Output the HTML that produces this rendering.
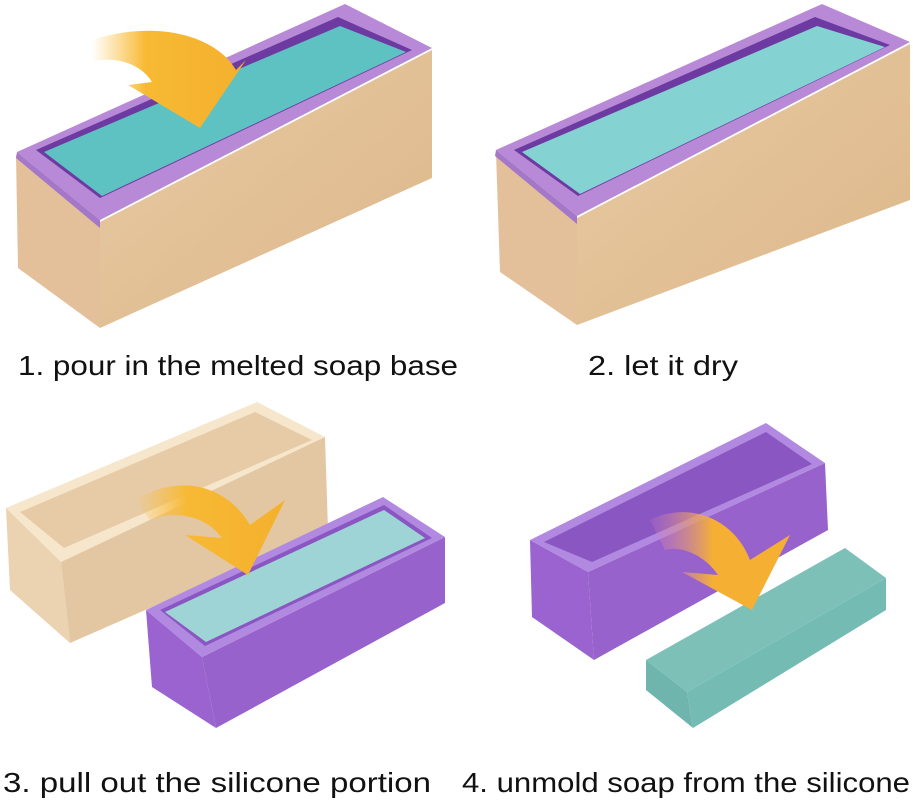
<!DOCTYPE html>
<html><head><meta charset="utf-8"><style>
html,body{margin:0;padding:0;background:#fff;}
svg{display:block;}
text{font-family:"Liberation Sans","DejaVu Sans",sans-serif;font-size:28px;fill:#111;}
</style></head><body>
<svg width="913" height="803" viewBox="0 0 913 803" xmlns="http://www.w3.org/2000/svg">
<defs>
<linearGradient id="wood" x1="0" y1="0" x2="1" y2="1">
<stop offset="0" stop-color="#e9cba3"/><stop offset="1" stop-color="#dcb68a"/></linearGradient>
<linearGradient id="arr" x1="0" y1="0" x2="1" y2="0">
<stop offset="0" stop-color="#fbbd3a" stop-opacity="0"/><stop offset="0.35" stop-color="#f7b934"/><stop offset="1" stop-color="#f4b02c"/></linearGradient>
<linearGradient id="arr2" x1="0" y1="0" x2="1" y2="0">
<stop offset="0" stop-color="#c77acb" stop-opacity="0.2"/><stop offset="0.45" stop-color="#f5b034"/><stop offset="1" stop-color="#f5b034"/></linearGradient>
</defs>

<!-- Panel 1 -->
<polygon points="16,155 100,222 100,328 18,268" fill="#e3c09a"/>
<polygon points="100,222 432,50 432,178 100,328" fill="url(#wood)"/>
<polygon points="17,152 100,220 432,48 345,4" fill="#b889d6"/>
<polygon points="17,152 100,220 100,228 16,158" fill="#a477c8"/>
<polygon points="36,150 100,198 412,50 338,17" fill="#6c3aa0"/>
<polygon points="44,152 102,196 406,52 340,26" fill="#5fc2c2"/>
<path d="M92,40 C160,18 218,38 236,70 L246,60 L200,128 L128,85 L152,82 C140,62 112,56 92,62 Z" fill="url(#arr)"/>

<!-- Panel 2 -->
<polygon points="496,152 577,218 577,325 500,272" fill="#e3c09a"/>
<polygon points="577,218 910,44 910,200 577,325" fill="url(#wood)"/>
<polygon points="496,150 577,216 910,42 822,4" fill="#b889d6"/>
<polygon points="496,150 577,216 577,224 495,156" fill="#a477c8"/>
<polygon points="514,150 578,196 890,45 815,17" fill="#6c3aa0"/>
<polygon points="522,152 580,194 885,47 817,26" fill="#84d2d2"/>

<!-- Panel 3 wood -->
<polygon points="6,508 257,402 325,437 61,562" fill="#f6e6cc"/>
<polygon points="20,512 255,412 312,440 64,548" fill="#e6cba6"/>
<polygon points="6,508 61,562 70,643 10,590" fill="#ebd2b0"/>
<polygon points="61,562 325,437 328,530 70,643" fill="#e3c7a3"/>
<!-- Panel 3 purple -->
<polygon points="146,610 202,657 216,728 152,687" fill="#9a63cf"/>
<polygon points="202,657 445,537 445,603 216,728" fill="#9862cc"/>
<polygon points="146,610 383,497 445,537 202,657" fill="#b289e0"/>
<polygon points="160,610 384,505 432,538 205,646" fill="#8a56c2"/>
<polygon points="165,612 384,510 425,538 206,642" fill="#9fd4d6"/>
<path d="M135,500 C185,470 230,490 250,525 L285,500 L248,575 L185,535 L222,538 C205,515 175,510 150,520 Z" fill="url(#arr)"/>

<!-- Panel 4 purple -->
<polygon points="530,540 588,572 594,660 532,617" fill="#9a63cf"/>
<polygon points="588,572 825,463 828,530 594,660" fill="#9862cc"/>
<polygon points="530,540 766,423 825,463 588,572" fill="#b289e0"/>
<polygon points="544,542 766,432 812,464 592,562" fill="#8a56c2"/>
<!-- teal soap -->
<polygon points="646,660 687,692 693,728 646,690" fill="#6fb5ad"/>
<polygon points="687,692 886,578 886,610 693,728" fill="#74bbb3"/>
<polygon points="646,660 845,548 886,578 687,692" fill="#7cc0b8"/>
<path d="M650,520 C690,500 735,520 750,560 L790,535 L752,610 L682,572 L718,575 C705,555 680,545 665,550 Z" fill="url(#arr2)"/>

<text x="18" y="375" textLength="440" lengthAdjust="spacingAndGlyphs">1. pour in the melted soap base</text>
<text x="588" y="375" textLength="150" lengthAdjust="spacingAndGlyphs">2. let it dry</text>
<text x="3" y="792" textLength="428" lengthAdjust="spacingAndGlyphs">3. pull out the silicone portion</text>
<text x="462" y="792" textLength="448" lengthAdjust="spacingAndGlyphs">4. unmold soap from the silicone</text>
</svg>
</body></html>
